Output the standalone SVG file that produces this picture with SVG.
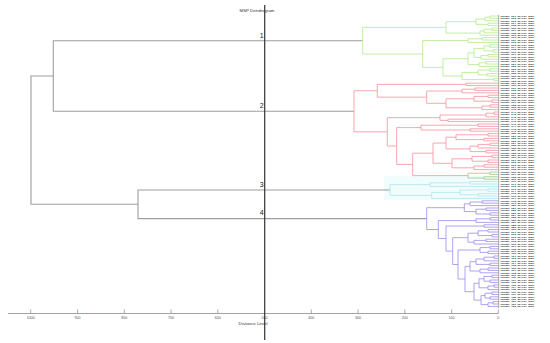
<svg xmlns="http://www.w3.org/2000/svg" width="550" height="343" viewBox="0 0 550 343">
<style>
.br{fill:none;stroke-width:0.8;stroke-linejoin:miter}
.g{stroke:#b2ea8c}.r{stroke:#f4909c}.o{stroke:#a9bf86}.c{stroke:#ade6f0}.p{stroke:#9d8aea}
.main{fill:none;stroke:#9e9e9e;stroke-width:1.1}
.lf{font-family:"Liberation Sans",Arial,sans-serif;font-size:2px;font-weight:bold;fill:#333}
.tk{font-family:"Liberation Sans",Arial,sans-serif;font-size:3.6px;fill:#555;text-anchor:middle}
.num{font-family:"Liberation Sans",Arial,sans-serif;font-size:7px;fill:#222;text-anchor:end}
.ttl{font-family:"Liberation Sans",Arial,sans-serif;font-size:4.4px;fill:#333;text-anchor:middle}
</style>
<rect width="550" height="343" fill="#fff"/>
<rect x="384" y="176" width="113" height="24" fill="#f1fcfc"/>

<g id="connectors">
<path class="main" d="M362.7,40.7 H53.3 V111.31 H354"/>
<path class="main" d="M390,190 H138 V218.64 H426.7"/>
<path class="main" d="M53.3,76 H31 V204.32 H138"/>
</g>

<g id="cluster-1">
<path class="br g" d="M498.5,16 H490 V18.4 H498.5 M490,17.2 H485 V20.8 H498.5 M498.5,23.2 H488 V25.6 H498.5 M485,19 H476 V24.4 H488 M498.5,28 H492 V30.4 H498.5 M492,29.2 H484 V32.8 H498.5 M484,31 H480 V35.2 H498.5 M476,21.7 H446 V33.1 H480 M498.5,37.6 H482 V40 H498.5 M482,38.8 H468 V42.4 H498.5 M498.5,44.8 H490 V47.2 H498.5 M498.5,49.6 H493 V52 H498.5 M490,46 H484 V50.8 H493 M498.5,54.4 H488 V56.8 H498.5 M488,55.6 H481 V59.2 H498.5 M484,48.4 H474 V57.4 H481 M498.5,61.6 H486 V64 H498.5 M486,62.8 H479 V66.4 H498.5 M474,52.9 H468 V64.6 H479 M498.5,68.8 H490 V71.2 H498.5 M498.5,73.6 H487 V76 H498.5 M490,70 H478 V74.8 H487 M498.5,78.4 H494 V80.8 H498.5 M478,72.4 H462 V79.6 H494 M468,58.75 H443 V76 H462 M468,40.6 H422.7 V67.4 H443 M446,27.4 H362.7 V54 H422.7"/>
<text class="num" x="263.6" y="37.5">1</text>
</g>

<g id="cluster-2">
<path class="br r" d="M498.5,83.2 H466 V85.6 H498.5 M498.5,88 H475 V90.4 H498.5 M475,89.2 H462 V92.8 H498.5 M498.5,95.2 H488 V97.6 H498.5 M498.5,100 H492 V102.4 H498.5 M488,96.4 H474 V101.2 H492 M498.5,104.8 H490 V107.2 H498.5 M490,106 H482 V109.6 H498.5 M474,98.8 H446 V107.8 H482 M462,91 H426.7 V103.3 H446 M466,84.4 H377.3 V97.15 H426.7 M498.5,112 H494 V114.4 H498.5 M494,113.2 H486 V116.8 H498.5 M498.5,119.2 H448 V121.6 H498.5 M486,115 H440 V120.4 H448 M498.5,124 H478 V126.4 H498.5 M498.5,128.8 H470 V131.2 H498.5 M478,125.2 H421 V130 H470 M498.5,133.6 H488 V136 H498.5 M498.5,138.4 H484 V140.8 H498.5 M488,134.8 H456 V139.6 H484 M498.5,143.2 H490 V145.6 H498.5 M490,144.4 H478 V148 H498.5 M498.5,150.4 H486 V152.8 H498.5 M478,146.2 H470 V151.6 H486 M456,137.2 H446 V148.9 H470 M498.5,155.2 H492 V157.6 H498.5 M498.5,160 H488 V162.4 H498.5 M492,156.4 H472 V161.2 H488 M498.5,164.8 H484 V167.2 H498.5 M484,166 H474 V169.6 H498.5 M472,158.8 H452 V167.8 H474 M446,143.05 H433 V163.3 H452 M433,153.175 H412.7 V175.6 H468 M421,127.6 H396.7 V164.39 H412.7 M440,117.7 H387.3 V146 H396.7 M377.3,90.775 H354 V131.85 H387.3"/>
<path class="br o" d="M498.5,172 H490 V174.4 H498.5 M498.5,176.8 H484 V179.2 H498.5 M490,173.2 H468 V178 H484"/>
<text class="num" x="263.6" y="108.1">2</text>
</g>

<g id="cluster-3">
<path class="br c" d="M498.5,181.6 H470 V184 H498.5 M470,182.8 H430 V186.4 H498.5 M498.5,188.8 H488 V191.2 H498.5 M498.5,193.6 H478 V196 H498.5 M488,190 H460 V194.8 H478 M460,192.4 H431.7 V198.4 H498.5 M430,184.6 H390 V195.4 H431.7"/>
<text class="num" x="263.6" y="186.8">3</text>
</g>

<g id="cluster-4">
<path class="br p" d="M498.5,200.8 H482 V203.2 H498.5 M482,202 H470 V205.6 H498.5 M498.5,208 H486 V210.4 H498.5 M498.5,212.8 H490 V215.2 H498.5 M486,209.2 H476 V214 H490 M470,203.8 H464.3 V211.6 H476 M498.5,217.6 H490 V220 H498.5 M490,218.8 H476 V222.4 H498.5 M498.5,224.8 H484 V227.2 H498.5 M498.5,229.6 H488 V232 H498.5 M498.5,234.4 H492 V236.8 H498.5 M488,230.8 H478 V235.6 H492 M498.5,239.2 H486 V241.6 H498.5 M486,240.4 H474 V244 H498.5 M478,233.2 H468 V242.2 H474 M498.5,246.4 H490 V248.8 H498.5 M498.5,251.2 H488 V253.6 H498.5 M490,247.6 H480 V252.4 H488 M498.5,256 H494 V258.4 H498.5 M494,257.2 H484 V260.8 H498.5 M498.5,263.2 H490 V265.6 H498.5 M484,259 H476 V264.4 H490 M498.5,268 H488 V270.4 H498.5 M488,269.2 H480 V272.8 H498.5 M476,261.7 H470 V271 H480 M498.5,275.2 H492 V277.6 H498.5 M498.5,280 H490 V282.4 H498.5 M492,276.4 H484 V281.2 H490 M498.5,284.8 H494 V287.2 H498.5 M494,286 H488 V289.6 H498.5 M484,278.8 H479 V287.8 H488 M498.5,292 H492 V294.4 H498.5 M498.5,296.8 H490 V299.2 H498.5 M492,293.2 H485 V298 H490 M498.5,301.6 H493 V304 H498.5 M493,302.8 H488 V306.4 H498.5 M485,295.6 H481 V304.6 H488 M479,283.3 H474 V300.1 H481 M470,266.35 H465 V291.7 H474 M480,250 H458 V279.025 H465 M468,237.7 H452.7 V264.51 H458 M484,226 H446 V251.1 H452.7 M476,220.6 H438.3 V238.55 H446 M464.3,207.7 H426.7 V229.575 H438.3"/>
<text class="num" x="263.6" y="215.4">4</text>
</g>

<g id="axis">
<line x1="498.7" y1="15" x2="498.7" y2="308" stroke="#555" stroke-width="0.5"/>
<line x1="8" y1="313.5" x2="498.5" y2="313.5" stroke="#8a8a8a" stroke-width="0.8"/>
<path d="M30.7,309.5V313.5 M77.5,309.5V313.5 M124.3,309.5V313.5 M171,309.5V313.5 M217.8,309.5V313.5 M311.3,309.5V313.5 M358,309.5V313.5 M404.8,309.5V313.5 M451.6,309.5V313.5 M498.3,309.5V313.5" stroke="#8a8a8a" stroke-width="0.7"/>
<text class="tk" x="30.7" y="319">1000</text>
<text class="tk" x="77.5" y="319">900</text>
<text class="tk" x="124.3" y="319">800</text>
<text class="tk" x="171" y="319">700</text>
<text class="tk" x="217.8" y="319">600</text>
<text class="tk" x="264.6" y="319">500</text>
<text class="tk" x="311.3" y="319">400</text>
<text class="tk" x="358" y="319">300</text>
<text class="tk" x="404.8" y="319">200</text>
<text class="tk" x="451.6" y="319">100</text>
<text class="tk" x="498.3" y="319">0</text>
<text class="ttl" x="253" y="325.3">Distance Level</text>
<text class="ttl" x="257" y="11.5">MSP Dendrogram</text>
<line x1="264.7" y1="5" x2="264.7" y2="340" stroke="#333" stroke-width="1.2"/>
</g>

<g id="leaf-labels">
<text class="lf" x="500.5" y="16.7" textLength="34" lengthAdjust="spacingAndGlyphs">Isolate_001_MALDI_MSP</text>
<text class="lf" x="500.5" y="19.1" textLength="34" lengthAdjust="spacingAndGlyphs">Isolate_002_MALDI_MSP</text>
<text class="lf" x="500.5" y="21.5" textLength="34" lengthAdjust="spacingAndGlyphs">Isolate_003_MALDI_MSP</text>
<text class="lf" x="500.5" y="23.9" textLength="34" lengthAdjust="spacingAndGlyphs">Isolate_004_MALDI_MSP</text>
<text class="lf" x="500.5" y="26.3" textLength="34" lengthAdjust="spacingAndGlyphs">Isolate_005_MALDI_MSP</text>
<text class="lf" x="500.5" y="28.7" textLength="34" lengthAdjust="spacingAndGlyphs">Isolate_006_MALDI_MSP</text>
<text class="lf" x="500.5" y="31.1" textLength="34" lengthAdjust="spacingAndGlyphs">Isolate_007_MALDI_MSP</text>
<text class="lf" x="500.5" y="33.5" textLength="34" lengthAdjust="spacingAndGlyphs">Isolate_008_MALDI_MSP</text>
<text class="lf" x="500.5" y="35.9" textLength="34" lengthAdjust="spacingAndGlyphs">Isolate_009_MALDI_MSP</text>
<text class="lf" x="500.5" y="38.3" textLength="34" lengthAdjust="spacingAndGlyphs">Isolate_010_MALDI_MSP</text>
<text class="lf" x="500.5" y="40.7" textLength="34" lengthAdjust="spacingAndGlyphs">Isolate_011_MALDI_MSP</text>
<text class="lf" x="500.5" y="43.1" textLength="34" lengthAdjust="spacingAndGlyphs">Isolate_012_MALDI_MSP</text>
<text class="lf" x="500.5" y="45.5" textLength="34" lengthAdjust="spacingAndGlyphs">Isolate_013_MALDI_MSP</text>
<text class="lf" x="500.5" y="47.9" textLength="34" lengthAdjust="spacingAndGlyphs">Isolate_014_MALDI_MSP</text>
<text class="lf" x="500.5" y="50.3" textLength="34" lengthAdjust="spacingAndGlyphs">Isolate_015_MALDI_MSP</text>
<text class="lf" x="500.5" y="52.7" textLength="34" lengthAdjust="spacingAndGlyphs">Isolate_016_MALDI_MSP</text>
<text class="lf" x="500.5" y="55.1" textLength="34" lengthAdjust="spacingAndGlyphs">Isolate_017_MALDI_MSP</text>
<text class="lf" x="500.5" y="57.5" textLength="34" lengthAdjust="spacingAndGlyphs">Isolate_018_MALDI_MSP</text>
<text class="lf" x="500.5" y="59.9" textLength="34" lengthAdjust="spacingAndGlyphs">Isolate_019_MALDI_MSP</text>
<text class="lf" x="500.5" y="62.3" textLength="34" lengthAdjust="spacingAndGlyphs">Isolate_020_MALDI_MSP</text>
<text class="lf" x="500.5" y="64.7" textLength="34" lengthAdjust="spacingAndGlyphs">Isolate_021_MALDI_MSP</text>
<text class="lf" x="500.5" y="67.1" textLength="34" lengthAdjust="spacingAndGlyphs">Isolate_022_MALDI_MSP</text>
<text class="lf" x="500.5" y="69.5" textLength="34" lengthAdjust="spacingAndGlyphs">Isolate_023_MALDI_MSP</text>
<text class="lf" x="500.5" y="71.9" textLength="34" lengthAdjust="spacingAndGlyphs">Isolate_024_MALDI_MSP</text>
<text class="lf" x="500.5" y="74.3" textLength="34" lengthAdjust="spacingAndGlyphs">Isolate_025_MALDI_MSP</text>
<text class="lf" x="500.5" y="76.7" textLength="34" lengthAdjust="spacingAndGlyphs">Isolate_026_MALDI_MSP</text>
<text class="lf" x="500.5" y="79.1" textLength="34" lengthAdjust="spacingAndGlyphs">Isolate_027_MALDI_MSP</text>
<text class="lf" x="500.5" y="81.5" textLength="34" lengthAdjust="spacingAndGlyphs">Isolate_028_MALDI_MSP</text>
<text class="lf" x="500.5" y="83.9" textLength="34" lengthAdjust="spacingAndGlyphs">Isolate_029_MALDI_MSP</text>
<text class="lf" x="500.5" y="86.3" textLength="34" lengthAdjust="spacingAndGlyphs">Isolate_030_MALDI_MSP</text>
<text class="lf" x="500.5" y="88.7" textLength="34" lengthAdjust="spacingAndGlyphs">Isolate_031_MALDI_MSP</text>
<text class="lf" x="500.5" y="91.1" textLength="34" lengthAdjust="spacingAndGlyphs">Isolate_032_MALDI_MSP</text>
<text class="lf" x="500.5" y="93.5" textLength="34" lengthAdjust="spacingAndGlyphs">Isolate_033_MALDI_MSP</text>
<text class="lf" x="500.5" y="95.9" textLength="34" lengthAdjust="spacingAndGlyphs">Isolate_034_MALDI_MSP</text>
<text class="lf" x="500.5" y="98.3" textLength="34" lengthAdjust="spacingAndGlyphs">Isolate_035_MALDI_MSP</text>
<text class="lf" x="500.5" y="100.7" textLength="34" lengthAdjust="spacingAndGlyphs">Isolate_036_MALDI_MSP</text>
<text class="lf" x="500.5" y="103.1" textLength="34" lengthAdjust="spacingAndGlyphs">Isolate_037_MALDI_MSP</text>
<text class="lf" x="500.5" y="105.5" textLength="34" lengthAdjust="spacingAndGlyphs">Isolate_038_MALDI_MSP</text>
<text class="lf" x="500.5" y="107.9" textLength="34" lengthAdjust="spacingAndGlyphs">Isolate_039_MALDI_MSP</text>
<text class="lf" x="500.5" y="110.3" textLength="34" lengthAdjust="spacingAndGlyphs">Isolate_040_MALDI_MSP</text>
<text class="lf" x="500.5" y="112.7" textLength="34" lengthAdjust="spacingAndGlyphs">Isolate_041_MALDI_MSP</text>
<text class="lf" x="500.5" y="115.1" textLength="34" lengthAdjust="spacingAndGlyphs">Isolate_042_MALDI_MSP</text>
<text class="lf" x="500.5" y="117.5" textLength="34" lengthAdjust="spacingAndGlyphs">Isolate_043_MALDI_MSP</text>
<text class="lf" x="500.5" y="119.9" textLength="34" lengthAdjust="spacingAndGlyphs">Isolate_044_MALDI_MSP</text>
<text class="lf" x="500.5" y="122.3" textLength="34" lengthAdjust="spacingAndGlyphs">Isolate_045_MALDI_MSP</text>
<text class="lf" x="500.5" y="124.7" textLength="34" lengthAdjust="spacingAndGlyphs">Isolate_046_MALDI_MSP</text>
<text class="lf" x="500.5" y="127.1" textLength="34" lengthAdjust="spacingAndGlyphs">Isolate_047_MALDI_MSP</text>
<text class="lf" x="500.5" y="129.5" textLength="34" lengthAdjust="spacingAndGlyphs">Isolate_048_MALDI_MSP</text>
<text class="lf" x="500.5" y="131.9" textLength="34" lengthAdjust="spacingAndGlyphs">Isolate_049_MALDI_MSP</text>
<text class="lf" x="500.5" y="134.3" textLength="34" lengthAdjust="spacingAndGlyphs">Isolate_050_MALDI_MSP</text>
<text class="lf" x="500.5" y="136.7" textLength="34" lengthAdjust="spacingAndGlyphs">Isolate_051_MALDI_MSP</text>
<text class="lf" x="500.5" y="139.1" textLength="34" lengthAdjust="spacingAndGlyphs">Isolate_052_MALDI_MSP</text>
<text class="lf" x="500.5" y="141.5" textLength="34" lengthAdjust="spacingAndGlyphs">Isolate_053_MALDI_MSP</text>
<text class="lf" x="500.5" y="143.9" textLength="34" lengthAdjust="spacingAndGlyphs">Isolate_054_MALDI_MSP</text>
<text class="lf" x="500.5" y="146.3" textLength="34" lengthAdjust="spacingAndGlyphs">Isolate_055_MALDI_MSP</text>
<text class="lf" x="500.5" y="148.7" textLength="34" lengthAdjust="spacingAndGlyphs">Isolate_056_MALDI_MSP</text>
<text class="lf" x="500.5" y="151.1" textLength="34" lengthAdjust="spacingAndGlyphs">Isolate_057_MALDI_MSP</text>
<text class="lf" x="500.5" y="153.5" textLength="34" lengthAdjust="spacingAndGlyphs">Isolate_058_MALDI_MSP</text>
<text class="lf" x="500.5" y="155.9" textLength="34" lengthAdjust="spacingAndGlyphs">Isolate_059_MALDI_MSP</text>
<text class="lf" x="500.5" y="158.3" textLength="34" lengthAdjust="spacingAndGlyphs">Isolate_060_MALDI_MSP</text>
<text class="lf" x="500.5" y="160.7" textLength="34" lengthAdjust="spacingAndGlyphs">Isolate_061_MALDI_MSP</text>
<text class="lf" x="500.5" y="163.1" textLength="34" lengthAdjust="spacingAndGlyphs">Isolate_062_MALDI_MSP</text>
<text class="lf" x="500.5" y="165.5" textLength="34" lengthAdjust="spacingAndGlyphs">Isolate_063_MALDI_MSP</text>
<text class="lf" x="500.5" y="167.9" textLength="34" lengthAdjust="spacingAndGlyphs">Isolate_064_MALDI_MSP</text>
<text class="lf" x="500.5" y="170.3" textLength="34" lengthAdjust="spacingAndGlyphs">Isolate_065_MALDI_MSP</text>
<text class="lf" x="500.5" y="172.7" textLength="34" lengthAdjust="spacingAndGlyphs">Isolate_066_MALDI_MSP</text>
<text class="lf" x="500.5" y="175.1" textLength="34" lengthAdjust="spacingAndGlyphs">Isolate_067_MALDI_MSP</text>
<text class="lf" x="500.5" y="177.5" textLength="34" lengthAdjust="spacingAndGlyphs">Isolate_068_MALDI_MSP</text>
<text class="lf" x="500.5" y="179.9" textLength="34" lengthAdjust="spacingAndGlyphs">Isolate_069_MALDI_MSP</text>
<text class="lf" x="500.5" y="182.3" textLength="34" lengthAdjust="spacingAndGlyphs">Isolate_070_MALDI_MSP</text>
<text class="lf" x="500.5" y="184.7" textLength="34" lengthAdjust="spacingAndGlyphs">Isolate_071_MALDI_MSP</text>
<text class="lf" x="500.5" y="187.1" textLength="34" lengthAdjust="spacingAndGlyphs">Isolate_072_MALDI_MSP</text>
<text class="lf" x="500.5" y="189.5" textLength="34" lengthAdjust="spacingAndGlyphs">Isolate_073_MALDI_MSP</text>
<text class="lf" x="500.5" y="191.9" textLength="34" lengthAdjust="spacingAndGlyphs">Isolate_074_MALDI_MSP</text>
<text class="lf" x="500.5" y="194.3" textLength="34" lengthAdjust="spacingAndGlyphs">Isolate_075_MALDI_MSP</text>
<text class="lf" x="500.5" y="196.7" textLength="34" lengthAdjust="spacingAndGlyphs">Isolate_076_MALDI_MSP</text>
<text class="lf" x="500.5" y="199.1" textLength="34" lengthAdjust="spacingAndGlyphs">Isolate_077_MALDI_MSP</text>
<text class="lf" x="500.5" y="201.5" textLength="34" lengthAdjust="spacingAndGlyphs">Isolate_078_MALDI_MSP</text>
<text class="lf" x="500.5" y="203.9" textLength="34" lengthAdjust="spacingAndGlyphs">Isolate_079_MALDI_MSP</text>
<text class="lf" x="500.5" y="206.3" textLength="34" lengthAdjust="spacingAndGlyphs">Isolate_080_MALDI_MSP</text>
<text class="lf" x="500.5" y="208.7" textLength="34" lengthAdjust="spacingAndGlyphs">Isolate_081_MALDI_MSP</text>
<text class="lf" x="500.5" y="211.1" textLength="34" lengthAdjust="spacingAndGlyphs">Isolate_082_MALDI_MSP</text>
<text class="lf" x="500.5" y="213.5" textLength="34" lengthAdjust="spacingAndGlyphs">Isolate_083_MALDI_MSP</text>
<text class="lf" x="500.5" y="215.9" textLength="34" lengthAdjust="spacingAndGlyphs">Isolate_084_MALDI_MSP</text>
<text class="lf" x="500.5" y="218.3" textLength="34" lengthAdjust="spacingAndGlyphs">Isolate_085_MALDI_MSP</text>
<text class="lf" x="500.5" y="220.7" textLength="34" lengthAdjust="spacingAndGlyphs">Isolate_086_MALDI_MSP</text>
<text class="lf" x="500.5" y="223.1" textLength="34" lengthAdjust="spacingAndGlyphs">Isolate_087_MALDI_MSP</text>
<text class="lf" x="500.5" y="225.5" textLength="34" lengthAdjust="spacingAndGlyphs">Isolate_088_MALDI_MSP</text>
<text class="lf" x="500.5" y="227.9" textLength="34" lengthAdjust="spacingAndGlyphs">Isolate_089_MALDI_MSP</text>
<text class="lf" x="500.5" y="230.3" textLength="34" lengthAdjust="spacingAndGlyphs">Isolate_090_MALDI_MSP</text>
<text class="lf" x="500.5" y="232.7" textLength="34" lengthAdjust="spacingAndGlyphs">Isolate_091_MALDI_MSP</text>
<text class="lf" x="500.5" y="235.1" textLength="34" lengthAdjust="spacingAndGlyphs">Isolate_092_MALDI_MSP</text>
<text class="lf" x="500.5" y="237.5" textLength="34" lengthAdjust="spacingAndGlyphs">Isolate_093_MALDI_MSP</text>
<text class="lf" x="500.5" y="239.9" textLength="34" lengthAdjust="spacingAndGlyphs">Isolate_094_MALDI_MSP</text>
<text class="lf" x="500.5" y="242.3" textLength="34" lengthAdjust="spacingAndGlyphs">Isolate_095_MALDI_MSP</text>
<text class="lf" x="500.5" y="244.7" textLength="34" lengthAdjust="spacingAndGlyphs">Isolate_096_MALDI_MSP</text>
<text class="lf" x="500.5" y="247.1" textLength="34" lengthAdjust="spacingAndGlyphs">Isolate_097_MALDI_MSP</text>
<text class="lf" x="500.5" y="249.5" textLength="34" lengthAdjust="spacingAndGlyphs">Isolate_098_MALDI_MSP</text>
<text class="lf" x="500.5" y="251.9" textLength="34" lengthAdjust="spacingAndGlyphs">Isolate_099_MALDI_MSP</text>
<text class="lf" x="500.5" y="254.3" textLength="34" lengthAdjust="spacingAndGlyphs">Isolate_100_MALDI_MSP</text>
<text class="lf" x="500.5" y="256.7" textLength="34" lengthAdjust="spacingAndGlyphs">Isolate_101_MALDI_MSP</text>
<text class="lf" x="500.5" y="259.1" textLength="34" lengthAdjust="spacingAndGlyphs">Isolate_102_MALDI_MSP</text>
<text class="lf" x="500.5" y="261.5" textLength="34" lengthAdjust="spacingAndGlyphs">Isolate_103_MALDI_MSP</text>
<text class="lf" x="500.5" y="263.9" textLength="34" lengthAdjust="spacingAndGlyphs">Isolate_104_MALDI_MSP</text>
<text class="lf" x="500.5" y="266.3" textLength="34" lengthAdjust="spacingAndGlyphs">Isolate_105_MALDI_MSP</text>
<text class="lf" x="500.5" y="268.7" textLength="34" lengthAdjust="spacingAndGlyphs">Isolate_106_MALDI_MSP</text>
<text class="lf" x="500.5" y="271.1" textLength="34" lengthAdjust="spacingAndGlyphs">Isolate_107_MALDI_MSP</text>
<text class="lf" x="500.5" y="273.5" textLength="34" lengthAdjust="spacingAndGlyphs">Isolate_108_MALDI_MSP</text>
<text class="lf" x="500.5" y="275.9" textLength="34" lengthAdjust="spacingAndGlyphs">Isolate_109_MALDI_MSP</text>
<text class="lf" x="500.5" y="278.3" textLength="34" lengthAdjust="spacingAndGlyphs">Isolate_110_MALDI_MSP</text>
<text class="lf" x="500.5" y="280.7" textLength="34" lengthAdjust="spacingAndGlyphs">Isolate_111_MALDI_MSP</text>
<text class="lf" x="500.5" y="283.1" textLength="34" lengthAdjust="spacingAndGlyphs">Isolate_112_MALDI_MSP</text>
<text class="lf" x="500.5" y="285.5" textLength="34" lengthAdjust="spacingAndGlyphs">Isolate_113_MALDI_MSP</text>
<text class="lf" x="500.5" y="287.9" textLength="34" lengthAdjust="spacingAndGlyphs">Isolate_114_MALDI_MSP</text>
<text class="lf" x="500.5" y="290.3" textLength="34" lengthAdjust="spacingAndGlyphs">Isolate_115_MALDI_MSP</text>
<text class="lf" x="500.5" y="292.7" textLength="34" lengthAdjust="spacingAndGlyphs">Isolate_116_MALDI_MSP</text>
<text class="lf" x="500.5" y="295.1" textLength="34" lengthAdjust="spacingAndGlyphs">Isolate_117_MALDI_MSP</text>
<text class="lf" x="500.5" y="297.5" textLength="34" lengthAdjust="spacingAndGlyphs">Isolate_118_MALDI_MSP</text>
<text class="lf" x="500.5" y="299.9" textLength="34" lengthAdjust="spacingAndGlyphs">Isolate_119_MALDI_MSP</text>
<text class="lf" x="500.5" y="302.3" textLength="34" lengthAdjust="spacingAndGlyphs">Isolate_120_MALDI_MSP</text>
<text class="lf" x="500.5" y="304.7" textLength="34" lengthAdjust="spacingAndGlyphs">Isolate_121_MALDI_MSP</text>
<text class="lf" x="500.5" y="307.1" textLength="34" lengthAdjust="spacingAndGlyphs">Isolate_122_MALDI_MSP</text>
</g>
</svg>
